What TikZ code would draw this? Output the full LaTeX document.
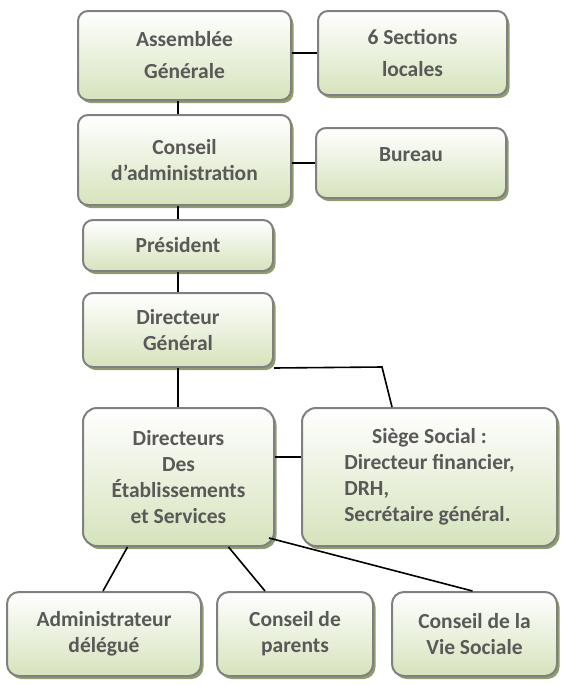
\documentclass[tikz,border=0pt]{standalone}
\usepackage{fontspec}
\setmainfont{Carlito}
\usepackage{tikz}
\usetikzlibrary{shapes}
\usetikzlibrary{shadows}
\definecolor{boxgreen}{RGB}{214,227,188}
\definecolor{boxline}{RGB}{128,128,128}
\definecolor{boxshadow}{RGB}{130,148,92}
\definecolor{boxtext}{RGB}{89,89,89}
\tikzset{
	org node/.style={rectangle,rounded corners=10pt,draw=boxline,line width=2pt,
	  top color=white,bottom color=boxgreen,
	  drop shadow={shadow xshift=2.5pt,shadow yshift=-3pt,fill=boxshadow,opacity=0.9},
	  text=boxtext,font=\fontsize{21.5}{26}\selectfont\bfseries,align=center,inner sep=0pt},
	link/.style={line width=1.6pt}
}

\begin{document}
\begin{tikzpicture}[x=1pt,y=-1pt]
            \useasboundingbox (0,0) rectangle (565,686);
            \node [org node,font=\fontsize{21.5}{32}\selectfont\bfseries,minimum width=213pt,minimum height=89pt] (1) at (184.5,55.5) {Assemblée\\Générale};
            \node [org node,font=\fontsize{21.5}{32}\selectfont\bfseries,minimum width=189pt,minimum height=84pt] (2) at (412.5,53) {6 Sections\\locales};
            \node [org node,minimum width=213pt,minimum height=90pt] (3) at (184.5,160) {Conseil\\d’administration};
            \node [org node,minimum width=190pt,minimum height=70pt,text height=14pt,text depth=18pt] (4) at (411,163) {Bureau};
            \node [org node,minimum width=190pt,minimum height=51pt] (5) at (178,245.5) {Président};
            \node [org node,minimum width=190pt,minimum height=74pt] (6) at (178,330) {Directeur\\Général};
            \node [org node,rounded corners=14pt,minimum width=191pt,minimum height=138pt] (7) at (178.5,477) {Directeurs\\Des\\Établissements\\et Services};
            \node [org node,rounded corners=14pt,minimum width=255pt,minimum height=138pt] (8) at (429.5,477)
              {\begin{tabular}{@{}l@{}}\multicolumn{1}{@{}c@{}}{Siège Social :}\\Directeur financier,\\DRH,\\Secrétaire général.\end{tabular}};
            \node [org node,rounded corners=12pt,minimum width=194pt,minimum height=84pt] (9) at (104,634) {Administrateur\\délégué};
            \node [org node,rounded corners=12pt,minimum width=156pt,minimum height=84pt] (10) at (295,634) {Conseil de\\parents};
            \node [org node,rounded corners=12pt,minimum width=165pt,minimum height=84pt] (11) at (474.5,634) {Conseil de la\\Vie Sociale};
            \coordinate (bend) at (382,367);
            \draw [link] (2.west -| 1.east) -- (2.west);
            \draw [link] (4.west -| 3.east) -- (4.west);
            \draw [link] (1.south -| 5.north) -- (3.north -| 5.north);
            \draw [link] (3.south -| 5.north) -- (5.north);
            \draw [link] (5.south) -- (6.north);
            \draw [link] (6.south) -- (7.north -| 6.south);
            \draw [link] (6.south east) -- (bend) -- ([xshift=-37.5pt]8.north);
            \draw [link] ([yshift=20pt]7.east) -- ([yshift=20pt]8.west);
            \draw [link] ([xshift=-51pt]7.south) -- ([xshift=-1pt]9.north);
            \draw [link] ([xshift=50pt]7.south) -- ([xshift=-30pt]10.north);
            \draw [link] ([xshift=-6pt,yshift=9pt]7.south east) -- ([xshift=-2pt]11.north);
          \end{tikzpicture}
\end{document}
